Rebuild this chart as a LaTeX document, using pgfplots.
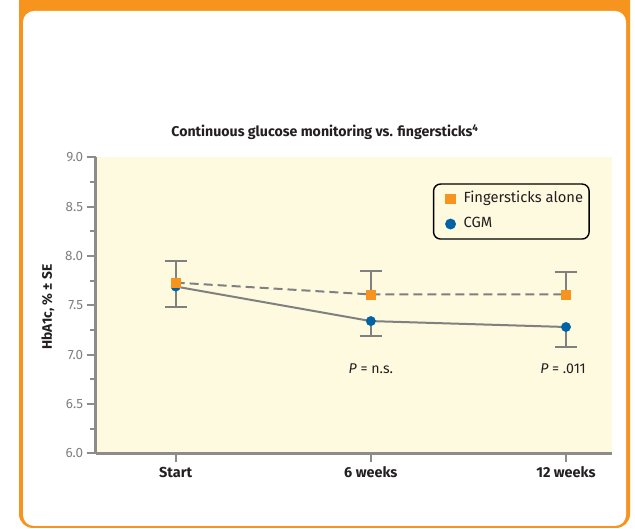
\documentclass[border=0pt]{standalone}
\usepackage{fontspec}
\setmainfont{Fira Sans}
\usepackage{pgfplots}
\pgfplotsset{compat=1.18}
\definecolor{orng}{HTML}{F7941D}
\definecolor{cgmblue}{HTML}{0063A6}
\definecolor{cream}{HTML}{FEFADF}
\definecolor{axgray}{HTML}{8C8C8C}
\definecolor{lngray}{HTML}{808080}
\definecolor{txt}{HTML}{231F20}
\definecolor{ticktxt}{HTML}{808080}
\begin{document}
\begin{tikzpicture}[x=1bp,y=1bp]
\useasboundingbox (0,0) rectangle (635,529);
\clip (0,0) rectangle (635,529);
\fill[white] (0,0) rectangle (635,529);
\fill[orng, rounded corners=14bp] (19,1) rectangle (630,560);
\fill[white, rounded corners=11bp] (23,3) rectangle (626,518);
\node[font=\bfseries\fontsize{14.2}{14.2}\selectfont, text=txt, anchor=base] at (325,392)
  {Continuous glucose monitoring vs. fingersticks\textsuperscript{4}};
\begin{axis}[
  at={(95.7bp,75.7bp)}, anchor=south west,
  scale only axis, width=516.3bp, height=296bp,
  xmin=-0.41, xmax=2.236, ymin=6, ymax=9,
  axis x line=bottom, axis y line=left,
  axis line style={-, axgray, line width=2.5bp},
  axis background/.style={fill=cream},
  xtick={0,1,2}, xticklabels={Start,6 weeks,12 weeks},
  ytick={6,6.5,...,9.01},
  minor y tick num=1,
  tick align=outside,
  major tick length=9bp, minor tick length=6bp,
  tick style={axgray, line width=2bp},
  /pgf/number format/.cd, fixed, fixed zerofill, precision=1, assume math mode=true,
  /pgfplots/.cd,
  yticklabel style={text=ticktxt, font=\fontsize{13.5}{13.5}\selectfont},
  xticklabel style={text=txt, font=\bfseries\fontsize{14.5}{14.5}\selectfont, yshift=-1bp},
  ylabel={HbA1c, \% ± SE},
  ylabel style={at={(axis description cs:-0.0924,0.494)}, anchor=center, text=txt, font=\bfseries\fontsize{13.8}{13.8}\selectfont},
  legend image code/.code={\path[draw=none, fill=none] (-12bp,-5bp) rectangle (12bp,5bp); \draw[#1, rounded corners=0pt] plot coordinates {(0bp,0bp)};},
  legend style={at={(0.957,0.912)}, anchor=north east, draw=black, line width=1.4bp,
    rounded corners=7bp, fill=cream, font=\fontsize{14.8}{14.8}\selectfont, text=txt,
    inner xsep=5bp, inner ysep=7bp, row sep=9bp,
    nodes={inner sep=1bp, text height=10.5bp, text depth=3.5bp}},
  legend cell align=left,
  clip=false,
]
\addlegendimage{only marks, mark=square*, mark size=4.5bp, color=orng}
\addlegendentry{Fingersticks alone}
\addlegendimage{only marks, mark=*, mark size=4.7bp, color=cgmblue}
\addlegendentry{CGM}
% CGM line + error bars (minus)
\addplot[forget plot, lngray, line width=2bp, no marks,
  error bars/.cd, y dir=minus, y explicit,
  error bar style={lngray, line width=2bp, solid},
  error mark options={rotate=90, mark size=11bp, lngray, line width=2bp, solid}]
  coordinates {(0,7.69) -= (0,0.21) (1,7.34) -= (0,0.15) (2,7.28) -= (0,0.20)};
% Fingersticks line + error bars (plus)
\addplot[forget plot, lngray, line width=2bp, no marks, dash pattern=on 9bp off 5bp,
  error bars/.cd, y dir=plus, y explicit,
  error bar style={lngray, line width=2bp, solid},
  error mark options={rotate=90, mark size=11bp, lngray, line width=2bp, solid}]
  coordinates {(0,7.73) += (0,0.22) (1,7.61) += (0,0.24) (2,7.61) += (0,0.23)};
\addplot[forget plot, only marks, mark=*, mark size=4.7bp, color=cgmblue]
  coordinates {(0,7.69) (1,7.34) (2,7.28)};
\addplot[forget plot, only marks, mark=square*, mark size=4.5bp, color=orng]
  coordinates {(0,7.73) (1,7.61) (2,7.61)};
\node[anchor=base, text=txt, font=\fontsize{14.2}{14.2}\selectfont] at (axis cs:1,6.81) {\textit{P} = n.s.};
\node[anchor=base, text=txt, font=\fontsize{14.2}{14.2}\selectfont] at (axis cs:1.985,6.81) {\textit{P} = .011};
\end{axis}
\end{tikzpicture}
\end{document}
